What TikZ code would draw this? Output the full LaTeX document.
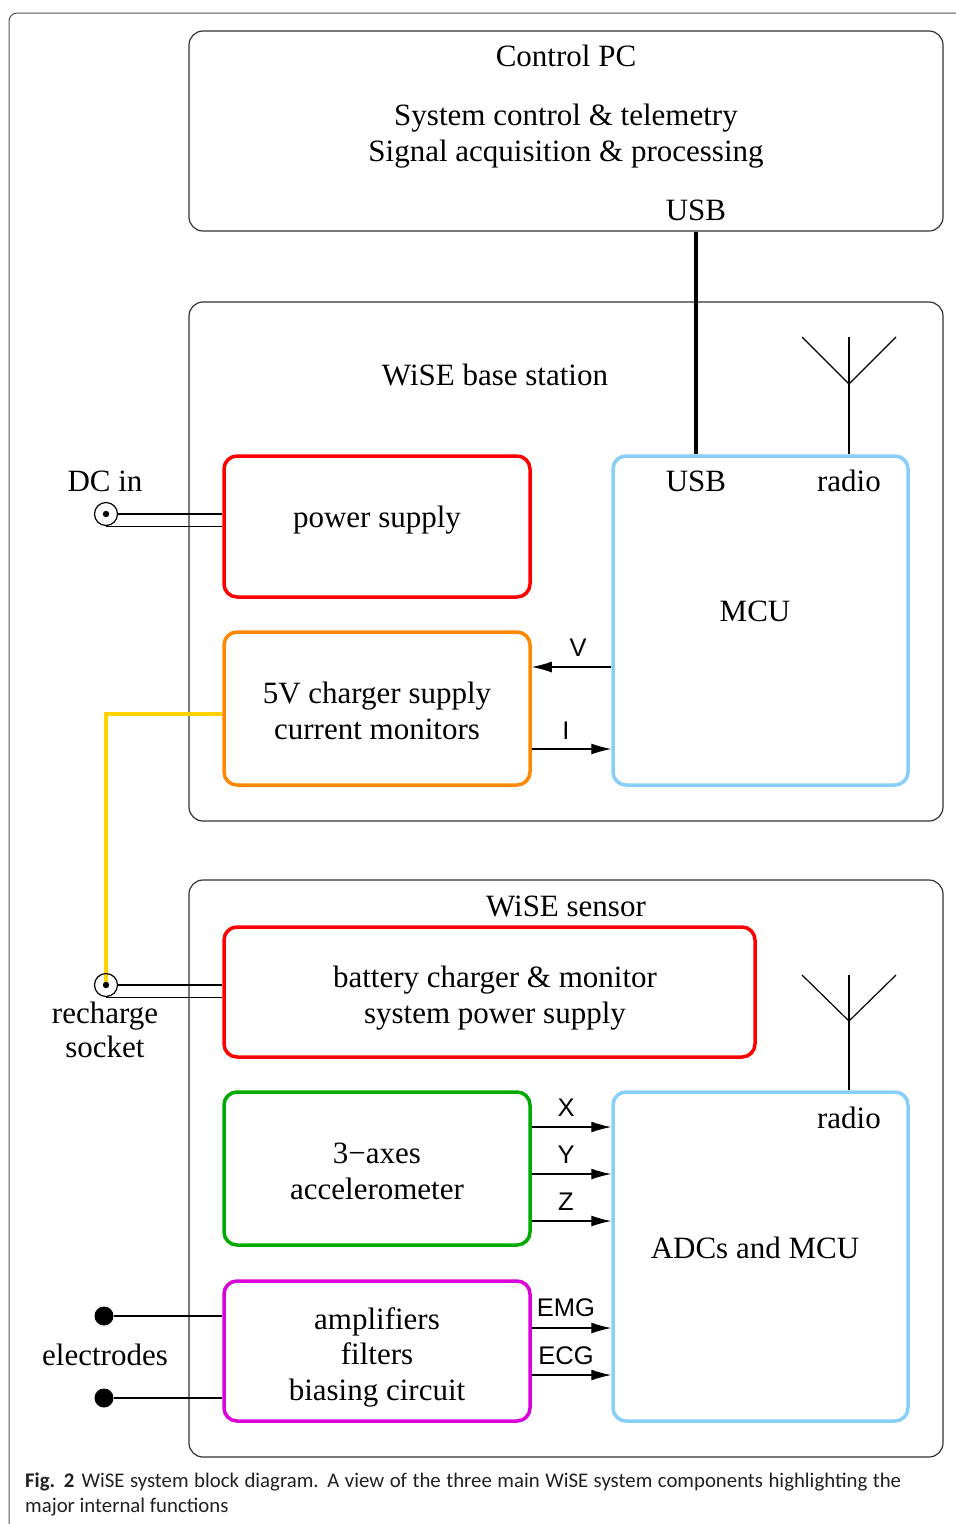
\documentclass[tikz,border=0pt]{standalone}
\usepackage{fontspec}
\setmainfont{Liberation Serif}
\newfontfamily\labfont{Liberation Sans}
\newfontfamily\capfont{Carlito}
\usetikzlibrary{arrows.meta}
\definecolor{cred}{RGB}{255,0,0}
\definecolor{corange}{RGB}{255,136,0}
\definecolor{cblue}{RGB}{135,206,250}
\definecolor{cgreen}{RGB}{0,170,0}
\definecolor{cmag}{RGB}{218,0,218}
\definecolor{cyel}{RGB}{255,210,0}
\definecolor{cframe}{RGB}{50,50,50}
\definecolor{ccap}{RGB}{35,31,32}
\begin{document}
\begin{tikzpicture}[x=1pt,y=-1pt,
  blk/.style={draw, line width=3.5pt, rounded corners=13pt, inner sep=0pt},
  grp/.style={draw=cframe, line width=1.2pt, rounded corners=14pt, inner sep=0pt},
  txt/.style={font=\fontsize{31}{36}\selectfont, inner sep=0pt, anchor=base},
  sig/.style={font=\labfont\fontsize{25.5}{30}\selectfont, inner sep=0pt, anchor=base},
  wire/.style={line width=1.2pt},
  arr/.style={wire, -{Latex[length=20pt,width=11pt]}},
  usbline/.style={line width=4pt},
  yelline/.style={draw=cyel, line width=3.5pt},
  socket/.style={circle, draw, line width=1.2pt, minimum size=23pt, inner sep=0pt},
  elec/.style={circle, fill, minimum size=19pt, inner sep=0pt},
  captxt/.style={font=\capfont\fontsize{20.8}{25}\selectfont, text=ccap, inner sep=0pt, anchor=base west}
]
\useasboundingbox (0,0) rectangle (956,1524);
\clip (0,0) rectangle (956,1524);
% outer frame
\draw[draw=cframe!85, line width=1pt, rounded corners=8pt] (9,1560) -- (9,13) -- (990,13);

% group boxes
\node[grp, minimum width=754pt, minimum height=200pt] (ctrl) at (566,131) {};
\node[grp, minimum width=754pt, minimum height=519pt] (base) at (566,561.5) {};
\node[grp, minimum width=754pt, minimum height=577pt] (sens) at (566,1168.5) {};

% functional blocks
\node[blk, draw=cred, minimum width=306pt, minimum height=141pt] (psu) at (377,526.5) {};
\node[blk, draw=corange, minimum width=306pt, minimum height=153pt] (chg) at (377,708.5) {};
\node[blk, draw=cblue, minimum width=295pt, minimum height=329pt] (mcu) at (760.5,620.5) {};
\node[blk, draw=cred, minimum width=531pt, minimum height=130pt] (bat) at (489.5,992) {};
\node[blk, draw=cgreen, minimum width=306pt, minimum height=153pt] (acc) at (377,1168.5) {};
\node[blk, draw=cmag, minimum width=306pt, minimum height=140pt] (amp) at (377,1351) {};
\node[blk, draw=cblue, minimum width=295pt, minimum height=329pt] (adc) at (760.5,1256.5) {};

% texts
\node[txt] (t1) at (566,66.5) {Control PC};
\node[txt] (t2) at (566,125.5) {System control \& telemetry};
\node[txt] (t3) at (566,161.5) {Signal acquisition \& processing};
\node[txt] (t4) at (696,220.5) {USB};
\node[txt] (t5) at (495,385.5) {WiSE base station};
\node[txt] (t6) at (696,491.5) {USB};
\node[txt] (t7) at (849,491.5) {radio};
\node[txt] (t8) at (755,621.5) {MCU};
\node[txt] (t9) at (105,491.5) {DC in};
\node[txt] (t10) at (377,527.5) {power supply};
\node[txt] (t11) at (377,703.5) {5V charger supply};
\node[txt] (t12) at (377,739.5) {current monitors};
\node[txt] (t13) at (566,916.5) {WiSE sensor};
\node[txt] (t14) at (495,987.5) {battery charger \& monitor};
\node[txt] (t15) at (495,1023.5) {system power supply};
\node[txt] (t16) at (105,1023.5) {recharge};
\node[txt] (t17) at (105,1057.5) {socket};
\node[txt] (t18) at (377,1163.5) {3−axes};
\node[txt] (t19) at (377,1199.5) {accelerometer};
\node[txt] (t20) at (849,1128.5) {radio};
\node[txt] (t21) at (755,1258.5) {ADCs and MCU};
\node[txt] (t22) at (377,1329.5) {amplifiers};
\node[txt] (t23) at (377,1364.5) {filters};
\node[txt] (t24) at (377,1400.5) {biasing circuit};
\node[txt] (t25) at (105,1365.5) {electrodes};

% signal labels
\node[sig] (lV) at (578,656) {V};
\node[sig] (lI) at (566,739) {I};
\node[sig] (lX) at (566,1116) {X};
\node[sig] (lY) at (566,1163) {Y};
\node[sig] (lZ) at (566,1210) {Z};
\node[sig] (lE) at (566,1316) {EMG};
\node[sig] (lC) at (566,1364) {ECG};

% helper coordinates
\coordinate (usbx) at (696,0);
\coordinate (yV) at (0,667);
\coordinate (yI) at (0,749);
\coordinate (yX) at (0,1127);
\coordinate (yY) at (0,1174);
\coordinate (yZ) at (0,1221);
\coordinate (yE) at (0,1328);
\coordinate (yC) at (0,1375);
\coordinate (yY2) at (0,714);

% USB link
\draw[usbline] (ctrl.south -| usbx) -- (mcu.north -| usbx);

% antennas
\coordinate (a1) at (849,384);
\coordinate (a1t) at (849,337);
\coordinate (a1l) at (802,337);
\coordinate (a1r) at (896,337);
\draw[wire] (mcu.north -| a1) -- (a1t);
\draw[wire] (a1l) -- (a1) -- (a1r);
\coordinate (a2) at (849,1021);
\coordinate (a2t) at (849,975);
\coordinate (a2l) at (802,975);
\coordinate (a2r) at (896,975);
\draw[wire] (adc.north -| a2) -- (a2t);
\draw[wire] (a2l) -- (a2) -- (a2r);

% signal arrows
\draw[arr] (mcu.west |- yV) -- (chg.east |- yV);
\draw[arr] (chg.east |- yI) -- (mcu.west |- yI);
\draw[arr] (acc.east |- yX) -- (adc.west |- yX);
\draw[arr] (acc.east |- yY) -- (adc.west |- yY);
\draw[arr] (acc.east |- yZ) -- (adc.west |- yZ);
\draw[arr] (amp.east |- yE) -- (adc.west |- yE);
\draw[arr] (amp.east |- yC) -- (adc.west |- yC);

% DC in socket
\node[socket] (dc) at (106,514) {};
\fill (dc.center) circle (3.2pt);
\draw[wire] (dc.east) -- (psu.west |- dc.east);
\draw[wire] (dc.south) -- (psu.west |- dc.south);

% recharge socket and yellow link
\coordinate (rcx) at (106,0);
\draw[yelline] (chg.west |- yY2) -- (rcx |- yY2) -- (106,985);
\node[socket] (rc) at (106,985) {};
\fill (rc.center) circle (3.2pt);
\draw[wire] (rc.east) -- (bat.west |- rc.east);
\draw[wire] (rc.south) -- (bat.west |- rc.south);

% electrodes
\node[elec] (e1) at (104,1316) {};
\node[elec] (e2) at (104,1398) {};
\draw[wire] (e1) -- (amp.west |- e1);
\draw[wire] (e2) -- (amp.west |- e2);

% caption
\node[captxt] (cap1) at (25,1487) {\makebox[876pt][s]{{\bfseries Fig. 2}\hspace{7pt}WiSE system block diagram. A view of the three main WiSE system components highlighting the}};
\node[captxt] (cap2) at (25,1512) {major internal functions};
\end{tikzpicture}
\end{document}
